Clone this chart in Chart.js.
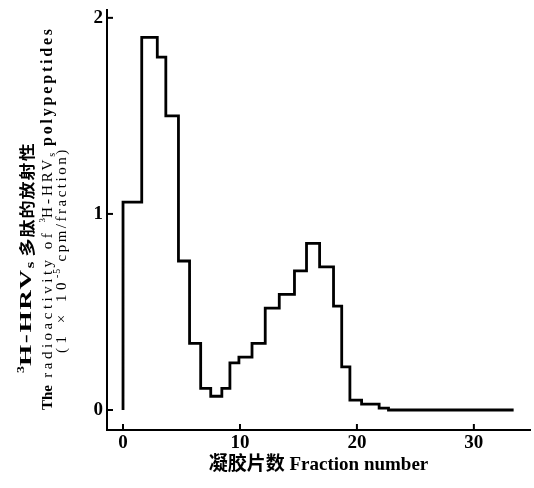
<!DOCTYPE html>
<html lang="zh">
<head>
<meta charset="UTF-8">
<title>Fraction chart</title>
<script src="https://cdn.jsdelivr.net/npm/chart.js@4.4.1/dist/chart.umd.min.js"></script>
<style>
  body { margin: 0; background: #fff; }
  #wrap { width: 534px; height: 488px; }
</style>
</head>
<body>
<div id="wrap"><canvas id="chart"></canvas></div>
<script>
// right edge of each step on the fraction axis
const stepEdges = [0, 1.6, 2.93, 3.66, 4.74, 5.69, 6.64, 7.5, 8.45, 9.14, 9.91,
  11.03, 12.16, 13.36, 14.66, 15.69, 16.81, 18.0, 18.7, 19.4, 20.4, 21.9, 22.7, 33.4];
// radioactivity of each step (1x10^-5 cpm/fraction)
const stepValues = [0, 1.06, 1.90, 1.80, 1.50, 0.76, 0.34, 0.11, 0.07, 0.11, 0.24,
  0.27, 0.34, 0.52, 0.59, 0.71, 0.85, 0.73, 0.53, 0.22, 0.05, 0.03, 0.01, 0];
const xTicks = [0, 10, 20, 30];
const yTicks = [0, 1, 2];

const serif = '"Liberation Serif", "DejaVu Serif", serif';
const cjk = '"Noto Sans CJK SC", sans-serif';

// rotated y title, three columns read bottom to top
// ls = letter spacing, sx = stretch along the text, dy = shift for sup/sub
const yTitleLines = [
  { x: 27, y: 373, parts: [
    { t: '3', font: 'bold 10px ' + serif, dy: -6, sx: 1.4 },
    { t: 'H-HRV', font: 'bold 17px ' + serif, sx: 1.6, ls: 1 },
    { t: 's', font: 'bold 12px ' + serif, dy: 4, sx: 1.4 },
    { t: ' 多肽的放射性', font: 'bold 16px ' + cjk, sx: 1.12, ls: 1 }
  ]},
  { x: 48, y: 410, parts: [
    { t: 'The', font: 'bold 15px ' + serif },
    { t: ' radioactivity of ', font: '15px ' + serif, ls: 3.5 },
    { t: '3', font: '9px ' + serif, dy: -5 },
    { t: 'H-HRV', font: '15px ' + serif, ls: 3 },
    { t: 's', font: '10px ' + serif, dy: 4 },
    { t: ' polypeptides', font: 'bold 16px ' + serif, ls: 2.8 }
  ]},
  { x: 62, y: 353, parts: [
    { t: '(1 × 10', font: '15px ' + serif, ls: 4.5 },
    { t: '-5', font: '10px ' + serif, dy: -5, ls: 1 },
    { t: ' cpm/fraction)', font: '15px ' + serif, ls: 2.5 }
  ]}
];

const extras = {
  id: 'extras',
  afterDraw(chart) {
    const ctx = chart.ctx;
    const xs = chart.scales.x, ys = chart.scales.y;

    // tick marks point into the plot
    ctx.save();
    ctx.strokeStyle = '#000';
    ctx.lineWidth = 2;
    xs.ticks.forEach(t => {
      const px = xs.getPixelForValue(t.value);
      ctx.beginPath(); ctx.moveTo(px, xs.top); ctx.lineTo(px, xs.top - 6); ctx.stroke();
    });
    ys.ticks.forEach(t => {
      const py = ys.getPixelForValue(t.value);
      ctx.beginPath(); ctx.moveTo(ys.right, py); ctx.lineTo(ys.right + 6, py); ctx.stroke();
    });
    ctx.restore();

    yTitleLines.forEach(line => {
      ctx.save();
      ctx.translate(line.x, line.y);
      ctx.rotate(-Math.PI / 2);
      ctx.textBaseline = 'middle';
      ctx.textAlign = 'left';
      ctx.fillStyle = '#000';
      let pos = 0;
      line.parts.forEach(p => {
        const sx = p.sx || 1;
        ctx.font = p.font;
        ctx.letterSpacing = (p.ls || 0) + 'px';
        ctx.save();
        ctx.translate(pos, p.dy || 0);
        ctx.scale(sx, 1);
        ctx.fillText(p.t, 0, 0);
        ctx.restore();
        pos += ctx.measureText(p.t).width * sx;
      });
      ctx.restore();
    });
  }
};

const points = stepEdges.map((x, i) => ({ x: x, y: stepValues[i] }));

new Chart(document.getElementById('chart'), {
  type: 'line',
  data: {
    datasets: [{
      data: points,
      stepped: 'after',
      borderColor: '#000',
      borderWidth: 2.8,
      pointRadius: 0,
      fill: false
    }]
  },
  options: {
    responsive: true,
    maintainAspectRatio: false,
    animation: false,
    layout: { padding: { left: 0, right: 4, top: 10, bottom: 10 } },
    plugins: { legend: { display: false }, tooltip: { enabled: false } },
    scales: {
      x: {
        type: 'linear',
        min: -1.37,
        max: 34.8,
        afterBuildTicks: s => { s.ticks = xTicks.map(v => ({ value: v })); },
        afterFit: s => { s.height = 48; s.paddingLeft = 0; s.paddingRight = 0; },
        grid: { drawOnChartArea: false, drawTicks: false },
        border: { color: '#000', width: 2 },
        ticks: {
          color: '#000', padding: 2, maxRotation: 0,
          font: { family: serif, size: 19, weight: 'bold' }
        },
        title: {
          display: true,
          text: '凝胶片数 Fraction number',
          color: '#000',
          padding: { top: 2, bottom: 2 },
          font: { family: '"Liberation Serif", "Noto Sans CJK SC"', size: 19, weight: 'bold' }
        }
      },
      y: {
        min: -0.102,
        max: 2.04,
        afterBuildTicks: s => { s.ticks = yTicks.map(v => ({ value: v })); },
        afterFit: s => { s.width = 107; s.paddingTop = 0; s.paddingBottom = 0; },
        grid: { drawOnChartArea: false, drawTicks: false },
        border: { color: '#000', width: 2 },
        ticks: {
          color: '#000', padding: 4,
          font: { family: serif, size: 19, weight: 'bold' }
        }
      }
    }
  },
  plugins: [extras]
});
</script>
</body>
</html>
